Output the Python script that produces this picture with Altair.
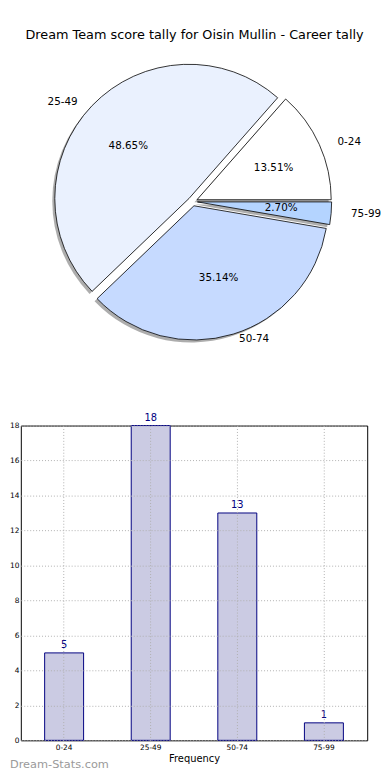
import math
import altair as alt
import pandas as pd

categories = ["0-24", "25-49", "50-74", "75-99"]
counts = [5, 18, 13, 1]
slice_colors = ["#ffffff", "#eaf1fe", "#c6daff", "#b4d4ff"]
y_ticks = [0, 2, 4, 6, 8, 10, 12, 14, 16, 18]
title_text = "Dream Team score tally for Oisin Mullin - Career tally"
x_title = "Frequency"
watermark = "Dream-Stats.com"

FONT = "DejaVu Sans"
RX, RY = 142, 128
R_PIX = 136
EXPLODE = 0.035
PIE_X0, PIE_Y0 = 19, 8
CX, CY = 193 - PIE_X0, 199 - PIE_Y0
W_P, H_P = 2 * CX, 2 * CY
xdom = [-CX / RX, CX / RX]
ydom = [-CY / RY, CY / RY]
TOTAL = sum(counts)

df = pd.DataFrame({"cat": categories, "count": counts, "idx": list(range(len(categories)))})

xs = alt.Scale(domain=xdom, nice=False, zero=False)
ys = alt.Scale(domain=ydom, nice=False, zero=False)
ts = alt.Scale(domain=[0, TOTAL], range=[2.5 * math.pi, 0.5 * math.pi], nice=False, zero=False)

base = (
    alt.Chart(df)
    .transform_joinaggregate(total="sum(count)")
    .transform_window(cum="sum(count)", sort=[alt.SortField("idx")], frame=[None, 0])
    .transform_calculate(start="datum.cum - datum.count")
    .transform_calculate(a0="2*PI*(datum.cum - datum.count)/datum.total")
    .transform_calculate(a1="2*PI*datum.cum/datum.total")
    .transform_calculate(mid="(datum.a0 + datum.a1)/2")
    .transform_calculate(ex=f"{EXPLODE}*cos(datum.mid)")
    .transform_calculate(ey=f"{EXPLODE}*sin(datum.mid)")
)

shadow = (
    base.transform_calculate(sx="datum.ex - 0.018")
    .transform_calculate(sy="datum.ey - 0.02")
    .mark_arc(radius=R_PIX, fill="#8a8a8a", fillOpacity=0.7, strokeOpacity=0)
    .encode(
        x=alt.X("sx:Q", scale=xs, axis=None),
        y=alt.Y("sy:Q", scale=ys, axis=None),
        theta=alt.Theta("start:Q", scale=ts, stack=False),
        theta2="cum:Q",
    )
)

slices = base.mark_arc(radius=R_PIX, stroke="black", strokeWidth=0.8).encode(
    x=alt.X("ex:Q", scale=xs, axis=None),
    y=alt.Y("ey:Q", scale=ys, axis=None),
    theta=alt.Theta("start:Q", scale=ts, stack=False),
    theta2="cum:Q",
    fill=alt.Fill("cat:N", scale=alt.Scale(domain=categories, range=slice_colors), legend=None),
)

lab = (
    base.transform_calculate(lx="datum.ex + 1.1*cos(datum.mid)")
    .transform_calculate(ly="datum.ey + 1.1*sin(datum.mid)")
    .transform_calculate(cx="cos(datum.mid)")
)
lab_left = lab.transform_filter("datum.cx > 0").mark_text(
    align="left", baseline="middle", fontSize=10.5, font=FONT, color="black"
).encode(x=alt.X("lx:Q", scale=xs, axis=None), y=alt.Y("ly:Q", scale=ys, axis=None), text="cat:N")
lab_right = lab.transform_filter("datum.cx <= 0").mark_text(
    align="right", baseline="middle", fontSize=10.5, font=FONT, color="black"
).encode(x=alt.X("lx:Q", scale=xs, axis=None), y=alt.Y("ly:Q", scale=ys, axis=None), text="cat:N")

pct = (
    base.transform_calculate(qx="datum.ex + 0.6*cos(datum.mid)")
    .transform_calculate(qy="datum.ey + 0.6*sin(datum.mid)")
    .transform_calculate(pl="format(100*datum.count/datum.total, '.2f') + '%'")
    .mark_text(align="center", baseline="middle", fontSize=10.5, font=FONT, color="black")
    .encode(x=alt.X("qx:Q", scale=xs, axis=None), y=alt.Y("qy:Q", scale=ys, axis=None), text="pl:N")
)

ttl = alt.Chart(pd.DataFrame({"t": [title_text]})).mark_text(
    align="center", baseline="middle", fontSize=13, font=FONT, color="black"
).encode(x=alt.value(195 - PIE_X0), y=alt.value(30 - PIE_Y0), text="t:N")

pie = alt.layer(shadow, slices, lab_left, lab_right, pct, ttl).properties(
    width=W_P, height=H_P, view=alt.ViewBackground(stroke=None)
)

bar_df = pd.DataFrame({"cat": categories, "count": counts})

xenc = alt.X(
    "cat:N",
    sort=categories,
    scale=alt.Scale(paddingInner=0, paddingOuter=0),
    axis=alt.Axis(
        title=x_title, labelAngle=0, grid=True, gridDash=[1, 2], gridColor="#b0b0b0",
        ticks=False, domain=False, labelFontSize=7.5, labelFont=FONT, labelColor="black",
        titleFontSize=10, titleFont=FONT, titleFontWeight="normal", titleColor="black",
        labelPadding=3, titlePadding=3, zindex=1,
    ),
)
yenc = alt.Y(
    "count:Q",
    scale=alt.Scale(domain=[0, 18], nice=False),
    axis=alt.Axis(
        title=None, values=y_ticks, grid=True, gridDash=[1, 2], gridColor="#b0b0b0",
        ticks=False, domain=False, labelFontSize=7.5, labelFont=FONT, labelColor="black",
        labelPadding=2, labelOverlap=False, zindex=1,
    ),
)

bars = alt.Chart(bar_df).mark_bar(
    width=alt.RelativeBandSize(0.45), fill="#cbcbe3", stroke="#000080", strokeWidth=1
).encode(x=xenc, y=yenc)

vals = alt.Chart(bar_df).mark_text(
    dy=-3, color="#000080", fontSize=10, font=FONT, baseline="bottom"
).encode(x=xenc, y=yenc, text="count:Q")

wm = alt.Chart(pd.DataFrame({"t": [watermark]})).mark_text(
    align="left", baseline="middle", fontSize=11.5, font=FONT, color="#9a9a9a"
).encode(x=alt.value(-11), y=alt.value(344), text="t:N")

bar = alt.layer(bars, vals, wm).properties(
    width=351, height=319, view=alt.ViewBackground(stroke="black", strokeWidth=1)
)

chart = alt.vconcat(pie, bar, spacing=22).properties(padding=0).configure(font=FONT)

chart.save("out.html", embed_options={"renderer": "svg", "actions": False})
